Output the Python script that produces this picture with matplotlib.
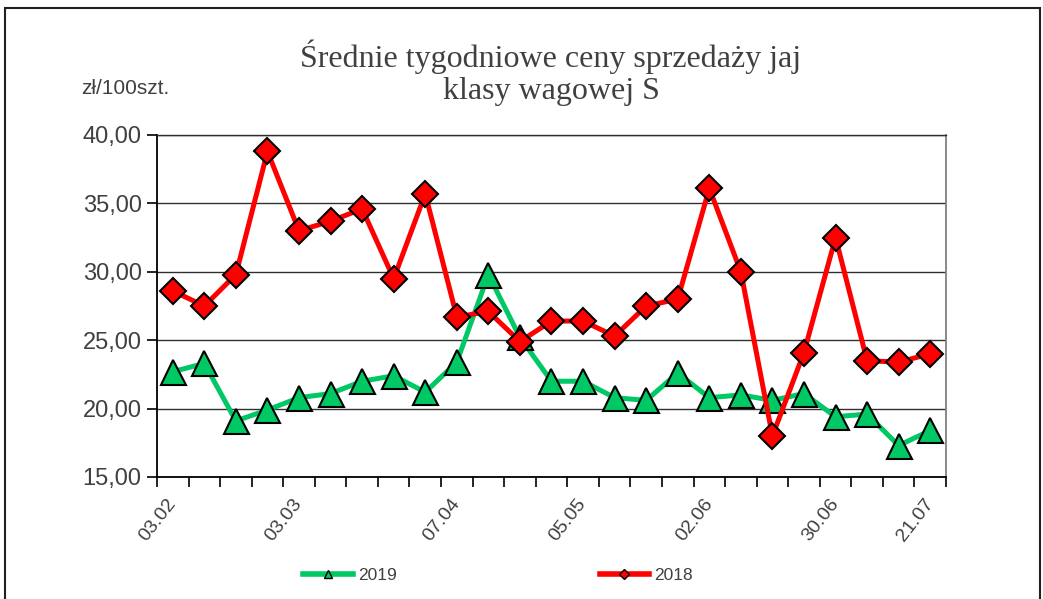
import numpy as np
import matplotlib
matplotlib.use('Agg')
import matplotlib.pyplot as plt
from matplotlib.lines import Line2D
from matplotlib.patches import Rectangle
from matplotlib.ticker import FuncFormatter

# data - weekly prices, zl/100 szt.
weeks = list(range(25))
tick_pos = [0, 4, 9, 13, 17, 21, 24]
tick_labels = ['03.02', '03.03', '07.04', '05.05', '02.06', '30.06', '21.07']

prices2019 = [22.7, 23.3, 19.1, 19.9, 20.8, 21.1, 22.0, 22.4, 21.2, 23.4,
              29.8, 25.2, 22.0, 22.0, 20.8, 20.6, 22.6, 20.8, 21.0, 20.6,
              21.1, 19.4, 19.6, 17.3, 18.4]
prices2018 = [28.6, 27.5, 29.8, 38.8, 33.0, 33.7, 34.6, 29.5, 35.7, 26.7,
              27.1, 24.9, 26.4, 26.4, 25.3, 27.5, 28.0, 36.1, 30.0, 18.0,
              24.1, 32.5, 23.5, 23.4, 24.0]

green = '#00C864'
red = '#FF0000'
gray_txt = '#404040'

plt.rcParams['font.family'] = ['Liberation Sans', 'DejaVu Sans']

fig = plt.figure(figsize=(10.43, 5.99), dpi=100)
ax = fig.add_axes([157/1043, 1-477/599, (946-157)/1043, (477-135)/599])

ax.plot(weeks, prices2019, color=green, lw=3.6, marker='^', ms=18,
        mfc=green, mec='black', mew=1.5, zorder=3)
ax.plot(weeks, prices2018, color=red, lw=3.6, marker='D', ms=13,
        mfc=red, mec='black', mew=1.5, zorder=4)

ax.set_xlim(-0.5, 24.5)
ax.set_ylim(15, 40)
ax.set_yticks(np.arange(15, 41, 5))
ax.yaxis.set_major_formatter(FuncFormatter(lambda v, p: ('%.2f' % v).replace('.', ',')))
ax.grid(axis='y', color='#303030', lw=1.0)
ax.set_axisbelow(True)

# category boundaries get the tick marks, labels sit on the points
ax.set_xticks(np.arange(-0.5, 25, 1))
ax.set_xticklabels([])
ax.set_xticks(tick_pos, minor=True)
ax.set_xticklabels(tick_labels, minor=True, rotation=52, ha='right',
                   va='center', rotation_mode='anchor', fontsize=14, color=gray_txt)
ax.tick_params(axis='x', which='major', length=7, width=1.2, direction='out')
ax.tick_params(axis='x', which='minor', length=0, pad=17)
ax.tick_params(axis='y', length=7, width=1.2, pad=4, labelsize=17, labelcolor=gray_txt)

ax.spines['left'].set_linewidth(1.3)
ax.spines['bottom'].set_linewidth(1.3)
ax.spines['right'].set_color('#808080')
ax.spines['right'].set_linewidth(1.3)
ax.spines['top'].set_color('#303030')
ax.spines['top'].set_linewidth(1.0)

fig.text(551/1043, 1-73/599, 'Średnie tygodniowe ceny sprzedaży jaj\nklasy wagowej S',
         ha='center', va='center', fontsize=23, color=gray_txt,
         family=['Liberation Serif', 'DejaVu Serif'], linespacing=1.15)
fig.text(81/1043, 1-88/599, 'zł/100szt.', ha='left', va='center',
         fontsize=15, color=gray_txt)

h19 = Line2D([], [], color=green, lw=4, marker='^', ms=6, mfc=green, mec='black', mew=1)
h18 = Line2D([], [], color=red, lw=4, marker='D', ms=5, mfc=red, mec='black', mew=1)
leg = fig.legend([h19, h18], ['2019', '2018'], loc='center', ncol=2,
                 bbox_to_anchor=(498/1043, 1-575/599), frameon=False,
                 fontsize=12.5, handlelength=2.85, handletextpad=0.3, columnspacing=11.7)
for t in leg.get_texts():
    t.set_color(gray_txt)

# outer chart frame
fig.patches.append(Rectangle((5/1043, -0.05), 1035/1043, 1.05 - 8/599,
                             transform=fig.transFigure, fill=False,
                             edgecolor='#202020', lw=1.5))

fig.savefig('out.png', dpi=100)
